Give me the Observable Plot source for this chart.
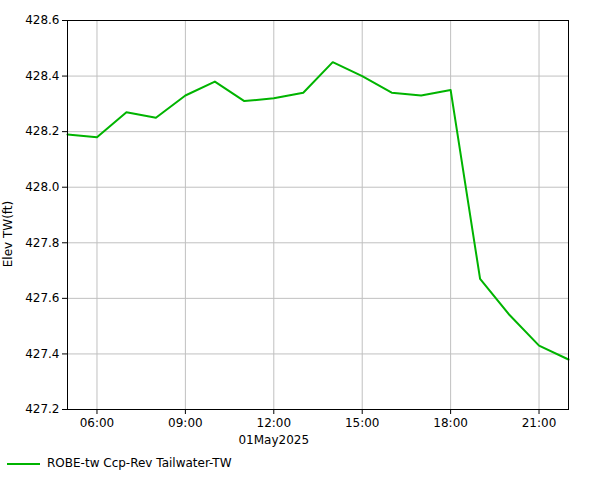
<!DOCTYPE html>
<html><head><meta charset="utf-8">
<script src="https://cdn.jsdelivr.net/npm/d3@7"></script>
<script src="https://cdn.jsdelivr.net/npm/@observablehq/plot@0.6"></script>
<style>
body{margin:0;background:#fff;font-family:"DejaVu Sans",sans-serif;}
#legend{position:relative;height:30px;font-size:12px;color:#000;}
#legend .sw{position:absolute;left:7px;top:13px;width:33px;height:2px;background:#00b400;}
#legend .lb{position:absolute;left:47px;top:6px;}
</style></head>
<body>
<div id="chart"></div>
<div id="legend"><div class="sw"></div><div class="lb">ROBE-tw Ccp-Rev Tailwater-TW</div></div>
<script>
const hours = [5,6,7,8,9,10,11,12,13,14,15,16,17,18,19,20,21,22];
const elev = [428.19,428.18,428.27,428.25,428.33,428.38,428.31,428.32,428.34,428.45,428.40,428.34,428.33,428.35,427.67,427.54,427.43,427.38];
const xTickHours = [6,9,12,15,18,21];
const yTicks = [427.2,427.4,427.6,427.8,428.0,428.2,428.4,428.6];
const seriesName = "ROBE-tw Ccp-Rev Tailwater-TW";
const dateLabel = "01May2025";
const dateLabelHour = 12;
const yLabel = "Elev TW(ft)";

const t = h => new Date(Date.UTC(2025,4,1,h));
const data = hours.map((h,i)=>({time:t(h), v:elev[i]}));
const xTicks = xTickHours.map(t);

const chart = Plot.plot({
  width:601, height:450,
  marginTop:20, marginBottom:41, marginLeft:67, marginRight:33,
  style:{fontFamily:"DejaVu Sans, sans-serif", fontSize:"12px", color:"#000", background:"#fff"},
  x:{type:"utc", domain:[t(5),t(22)], ticks:xTicks, tickFormat:d3.utcFormat("%H:%M"), label:null, tickSize:5, tickPadding:4},
  y:{domain:[427.2,428.6], ticks:yTicks, tickFormat:d3.format(".1f"), label:null, tickSize:5, tickPadding:3},
  marks:[
    Plot.gridX(xTicks,{stroke:"#c0c0c0", strokeOpacity:1, strokeWidth:1}),
    Plot.gridY(yTicks,{stroke:"#c0c0c0", strokeOpacity:1, strokeWidth:1}),
    Plot.line(data,{x:"time", y:"v", stroke:"#00b400", strokeWidth:2}),
    Plot.frame({stroke:"#000", strokeWidth:1}),
    Plot.axisX({ticks:xTicks, tickFormat:d3.utcFormat("%H:%M"), tickSize:5, tickPadding:4, label:null, fontSize:12}),
    Plot.axisY({ticks:yTicks, tickFormat:d3.format(".1f"), tickSize:5, tickPadding:3, label:null, fontSize:12}),
    Plot.text([dateLabel],{x:()=>t(dateLabelHour), frameAnchor:"bottom", dy:34, text:d=>d, fontSize:12, fill:"#000"}),
    Plot.text([yLabel],{frameAnchor:"left", textAnchor:"middle", dx:-59, dy:19, rotate:-90, text:d=>d, fontSize:12, fill:"#000"})
  ]
});
document.getElementById("chart").appendChild(chart);
</script>
</body></html>
